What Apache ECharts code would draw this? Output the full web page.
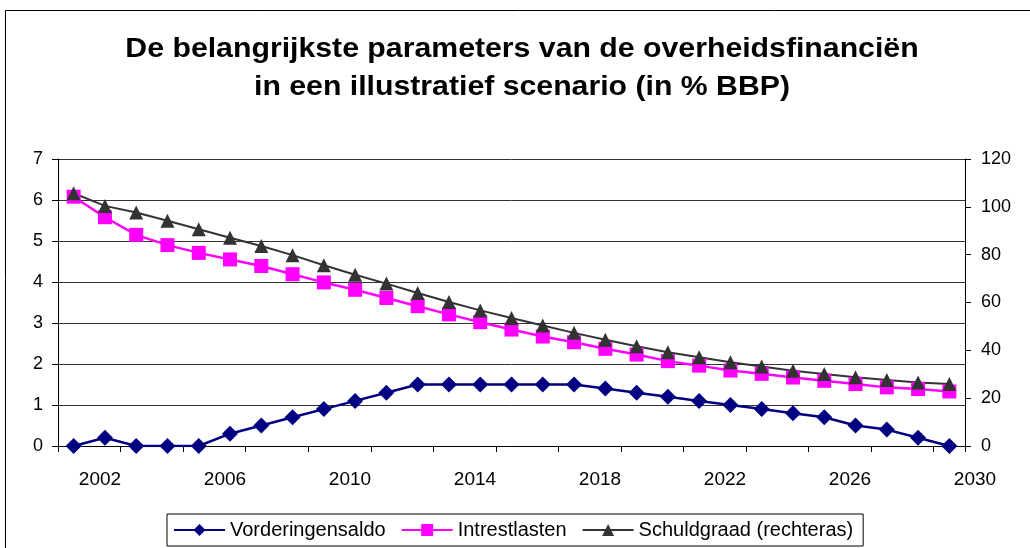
<!DOCTYPE html>
<html>
<head>
<meta charset="utf-8">
<script src="https://cdn.jsdelivr.net/npm/echarts@6/dist/echarts.min.js"></script>
<style>
html,body{margin:0;padding:0;background:#fff;}
#mapChart{width:1030px;height:548px;}
</style>
</head>
<body>
<div id="mapChart"></div>
<script>
// jaren 2001-2029
var jaren = [];
for (var j = 2001; j <= 2029; j++) { jaren.push(String(j)); }
var asLabels = [2002, 2006, 2010, 2014, 2018, 2022, 2026, 2030];//labels onder de x-as

var vorderingensaldo = [0, 0.2, 0, 0, 0, 0.3, 0.5, 0.7, 0.9, 1.1, 1.3, 1.5, 1.5, 1.5, 1.5, 1.5, 1.5,
	1.4, 1.3, 1.2, 1.1, 1.0, 0.9, 0.8, 0.7, 0.5, 0.4, 0.2, 0];
var intrestlasten = [6.08, 5.58, 5.15, 4.9, 4.71, 4.55, 4.39, 4.19, 3.99, 3.81, 3.61, 3.41, 3.21, 3.02, 2.84,
	2.67, 2.53, 2.37, 2.23, 2.07, 1.96, 1.84, 1.76, 1.67, 1.59, 1.51, 1.43, 1.39, 1.33];
var schuldgraad = [105.7, 100.4, 97.6, 94.2, 90.6, 87.1, 83.6, 79.8, 75.6, 71.6, 67.9, 64.0, 60.2, 56.7, 53.5,
	50.4, 47.3, 44.4, 41.7, 39.2, 37.1, 35.0, 33.2, 31.5, 30.1, 28.7, 27.6, 26.6, 25.9];

var titel = 'De belangrijkste parameters van de overheidsfinanciën\nin een illustratief scenario (in % BBP)';
var font = 'Liberation Sans, Arial, sans-serif';
var myChart = echarts.init(document.getElementById('mapChart'));

var option = {
	backgroundColor: '#fff',
	animation: false,
	graphic: [{//kader rond de grafiek
		type: 'rect',
		shape: {x: 5.5, y: 10.5, width: 1040, height: 560},
		style: {fill: 'none', stroke: '#000', lineWidth: 1}
	}, {//titel, iets breder lettertype zoals in het origineel
		type: 'text',
		x: 522,
		y: 69,
		scaleX: 1.12,
		style: {
			text: titel,
			font: 'bold 27px ' + font,
			textAlign: 'center', align: 'center',
			textVerticalAlign: 'middle', verticalAlign: 'middle',
			lineHeight: 38,
			fill: '#000'
		}
	}],
	legend: {
		left: 167,
		top: 514,
		data: ['Vorderingensaldo', 'Intrestlasten', 'Schuldgraad (rechteras)'],
		borderColor: '#000',
		borderWidth: 1,
		borderRadius: 0,
		padding: [6, 10, 6, 6],
		itemGap: 15,
		itemWidth: 51,
		itemHeight: 15,
		textStyle: {fontFamily: font, fontSize: 20, color: '#000', padding: [0, 0, 0, 0]}
	},
	grid: [
		{left: 58, right: 65, top: 159, bottom: 102},
		{left: 100, right: 55, top: 159, bottom: 102}//alleen voor de jaarlabels
	],
	xAxis: [{
		type: 'category',
		gridIndex: 0,
		data: jaren,
		boundaryGap: true,
		axisLine: {lineStyle: {color: '#000', width: 1}},
		axisTick: {show: true, length: 6, lineStyle: {color: '#000'}},
		axisLabel: {show: false}
	}, {
		type: 'value',
		gridIndex: 1,
		min: 2002,
		max: 2030,
		interval: 4,
		axisLine: {show: false},
		axisTick: {show: false},
		splitLine: {show: false},
		axisLabel: {
			margin: 24,
			fontFamily: font, fontSize: 19, color: '#000',
			formatter: function (v) { return asLabels.indexOf(v) >= 0 ? String(v) : ''; }
		}
	}],
	yAxis: [{
		type: 'value',
		gridIndex: 0,
		min: 0, max: 7, interval: 1,
		axisLine: {show: true, lineStyle: {color: '#000'}},
		axisTick: {show: true, length: 6, lineStyle: {color: '#000'}},
		splitLine: {show: true, lineStyle: {color: '#333', width: 1}},
		axisLabel: {margin: 15, fontFamily: font, fontSize: 18, color: '#000'}
	}, {
		type: 'value',
		gridIndex: 0,
		position: 'right',
		min: 0, max: 120, interval: 20,
		axisLine: {show: true, lineStyle: {color: '#000'}},
		axisTick: {show: true, length: 6, lineStyle: {color: '#000'}},
		splitLine: {show: false},
		axisLabel: {margin: 16, fontFamily: font, fontSize: 18, color: '#000'}
	}, {
		type: 'value',
		gridIndex: 1,
		show: false
	}],
	series: [{
		name: 'Vorderingensaldo',
		type: 'line',
		xAxisIndex: 0, yAxisIndex: 0,
		data: vorderingensaldo,
		symbol: 'diamond',
		symbolSize: 16,
		color: '#000080',
		lineStyle: {color: '#000080', width: 2.5},
		itemStyle: {color: '#000080'}
	}, {
		name: 'Intrestlasten',
		type: 'line',
		xAxisIndex: 0, yAxisIndex: 0,
		data: intrestlasten,
		symbol: 'rect',
		symbolSize: 14,
		color: '#ff00ff',
		lineStyle: {color: '#ff00ff', width: 2.5},
		itemStyle: {color: '#ff00ff'}
	}, {
		name: 'Schuldgraad (rechteras)',
		type: 'line',
		xAxisIndex: 0, yAxisIndex: 1,
		data: schuldgraad,
		symbol: 'triangle',
		symbolSize: 14,
		color: '#333333',
		lineStyle: {color: '#333333', width: 2},
		itemStyle: {color: '#333333'}
	}]
};
myChart.setOption(option);
</script>
</body>
</html>
